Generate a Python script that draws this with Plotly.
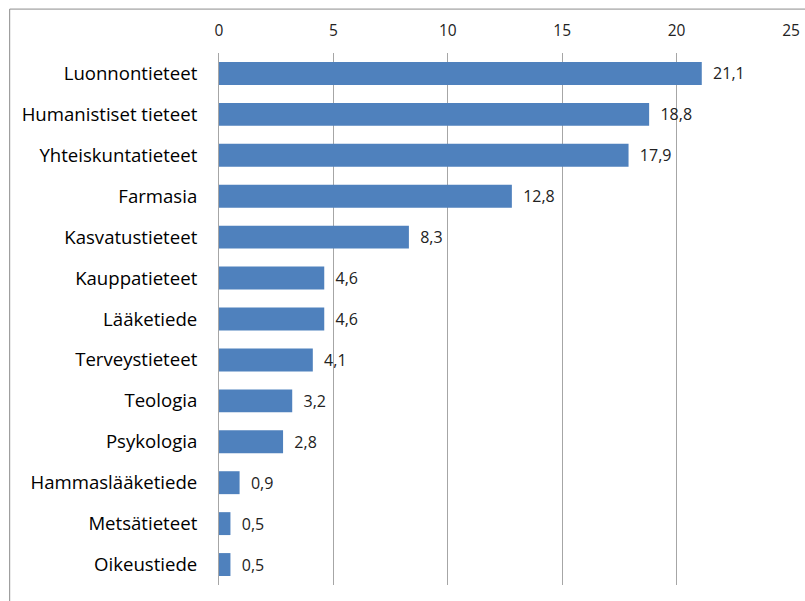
import plotly.graph_objects as go

categories = ["Luonnontieteet", "Humanistiset tieteet", "Yhteiskuntatieteet", "Farmasia",
              "Kasvatustieteet", "Kauppatieteet", "Lääketiede", "Terveystieteet", "Teologia",
              "Psykologia", "Hammaslääketiede", "Metsätieteet", "Oikeustiede"]
values = [21.1, 18.8, 17.9, 12.8, 8.3, 4.6, 4.6, 4.1, 3.2, 2.8, 0.9, 0.5, 0.5]
tick_vals = [0, 5, 10, 15, 20, 25]

labels = [f"{v:.1f}".replace(".", ",") for v in values]

W, H = 805, 601
L, R, T, B = 219, 13.5, 52.5, 15.5
pw, ph = W - L - R, H - T - B
FONT = "Open Sans, sans-serif"

fig = go.Figure(go.Bar(
    x=values, y=categories, orientation="h",
    marker=dict(color="#4F81BD", line=dict(width=0)),
    width=0.56,
    text=labels, texttemplate="  %{text}", textposition="outside", cliponaxis=False,
    textfont=dict(family=FONT, size=16, color="#222"),
))

def px_x(p):
    return (p - L) / pw

def px_y(p):
    return (H - B - p) / ph

fig.update_layout(
    width=W, height=H,
    margin=dict(l=L, r=R, t=T, b=B, autoexpand=False),
    paper_bgcolor="white", plot_bgcolor="white",
    showlegend=False,
    font=dict(family=FONT, color="#000"),
    xaxis=dict(range=[0, 25], side="top", tickvals=tick_vals, ticktext=[str(t) for t in tick_vals],
               showgrid=True, gridcolor="#a6a6a6", gridwidth=1, zeroline=False,
               showline=False, ticks="", ticklabelstandoff=13, automargin=False,
               tickfont=dict(size=15.5, color="#222")),
    yaxis=dict(categoryorder="array", categoryarray=categories[::-1],
               showline=True, linecolor="#a6a6a6", linewidth=1, ticks="",
               showgrid=False, ticklabelstandoff=17, automargin=False,
               tickfont=dict(size=18.6, color="#000")),
    shapes=[
        dict(type="line", xref="paper", yref="paper", x0=px_x(9.5), x1=px_x(820), y0=px_y(8.5), y1=px_y(8.5),
             line=dict(color="#8c8c8c", width=1)),
        dict(type="line", xref="paper", yref="paper", x0=px_x(9.5), x1=px_x(9.5), y0=px_y(8.5), y1=px_y(620),
             line=dict(color="#8c8c8c", width=1)),
    ],
)

fig.write_html("out.html")
